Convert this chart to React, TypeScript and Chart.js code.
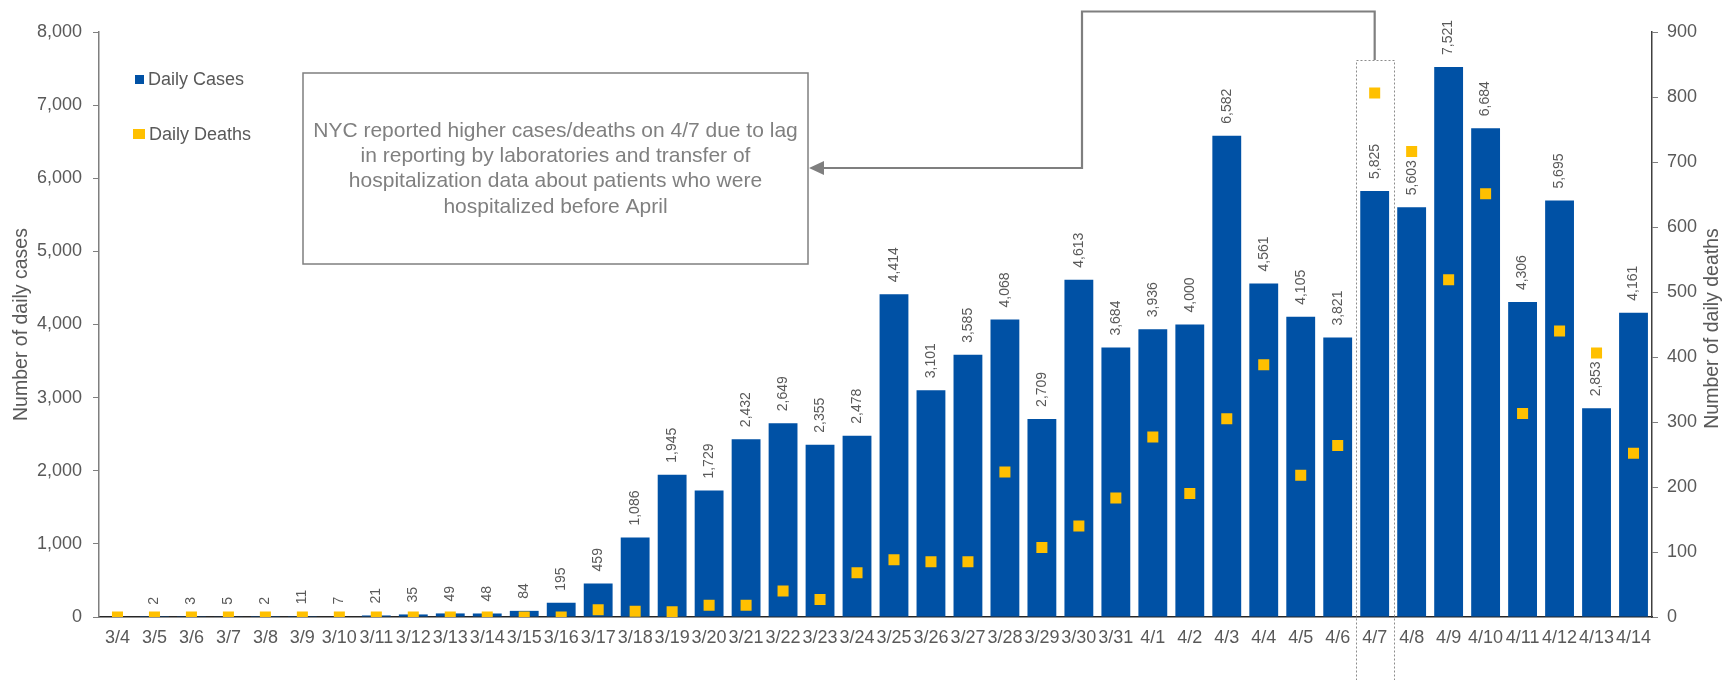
import React, { useEffect, useRef } from "react";
import { Chart, registerables } from "chart.js";

Chart.register(...registerables);

const dates = [
  "3/4", "3/5", "3/6", "3/7", "3/8", "3/9", "3/10", "3/11", "3/12", "3/13", "3/14", "3/15", "3/16", "3/17",
  "3/18", "3/19", "3/20", "3/21", "3/22", "3/23", "3/24", "3/25", "3/26", "3/27", "3/28", "3/29", "3/30", "3/31",
  "4/1", "4/2", "4/3", "4/4", "4/5", "4/6", "4/7", "4/8", "4/9", "4/10", "4/11", "4/12", "4/13", "4/14",
];

const dailyCases = [
  0, 2, 3, 5, 2, 11, 7, 21, 35, 49, 48, 84, 195, 459,
  1086, 1945, 1729, 2432, 2649, 2355, 2478, 4414, 3101, 3585, 4068, 2709, 4613, 3684,
  3936, 4000, 6582, 4561, 4105, 3821, 5825, 5603, 7521, 6684, 4306, 5695, 2853, 4161,
];

const dailyDeaths = [
  0, 0, 0, 0, 0, 0, 0, 0, 0, 0, 0, 0, 0, 11,
  9, 8, 18, 18, 40, 27, 68, 88, 85, 85, 223, 107, 140, 183,
  277, 190, 305, 388, 218, 264, 806, 716, 519, 651, 313, 440, 406, 252,
];

const noteLines = [
  "NYC reported higher cases/deaths on 4/7 due to lag",
  "in reporting by laboratories and transfer of",
  "hospitalization data about patients who were",
  "hospitalized before April",
];

const noteIndex = 34; // 4/7

const FONT = "'Liberation Sans', Arial, sans-serif";
const BLUE = "#0051A5";
const GOLD = "#FFC000";
const GRAY = "#595959";

const decorPlugin = {
  id: "decor",
  afterDraw(chart: any) {
    const ctx = chart.ctx;
    const xs = chart.scales.x;
    const ys = chart.scales.y;
    const area = chart.chartArea;
    ctx.save();

    // bar value labels
    ctx.fillStyle = GRAY;
    ctx.font = `14px ${FONT}`;
    ctx.textAlign = "left";
    ctx.textBaseline = "middle";
    dailyCases.forEach((v, i) => {
      if (!v) return;
      const x = xs.getPixelForValue(i);
      const y = ys.getPixelForValue(v) - 12;
      ctx.save();
      ctx.translate(x, y);
      ctx.rotate(-Math.PI / 2);
      ctx.fillText(v.toLocaleString("en-US"), 0, 0);
      ctx.restore();
    });

    // legend
    ctx.fillStyle = BLUE;
    ctx.fillRect(135, 75, 9, 9);
    ctx.fillStyle = GOLD;
    ctx.fillRect(133, 129, 12, 10);
    ctx.fillStyle = GRAY;
    ctx.font = `18px ${FONT}`;
    ctx.textAlign = "left";
    ctx.textBaseline = "middle";
    ctx.fillText("Daily Cases", 148, 80);
    ctx.fillText("Daily Deaths", 149, 135);

    // axis titles
    const midY = (area.top + area.bottom) / 2;
    ctx.font = `19.5px ${FONT}`;
    ctx.textAlign = "center";
    ctx.save();
    ctx.translate(22, midY);
    ctx.rotate(-Math.PI / 2);
    ctx.fillText("Number of daily cases", 0, 0);
    ctx.restore();
    ctx.save();
    ctx.translate(1713, midY + 4);
    ctx.rotate(-Math.PI / 2);
    ctx.fillText("Number of daily deaths", 0, 0);
    ctx.restore();

    // dotted highlight box around 4/7
    const cx = xs.getPixelForValue(noteIndex);
    const half = 19;
    ctx.strokeStyle = "#8c8c8c";
    ctx.lineWidth = 1;
    ctx.setLineDash([2, 2]);
    ctx.strokeRect(Math.round(cx - half) + 0.5, 60.5, half * 2, 700);
    ctx.setLineDash([]);

    // connector
    ctx.strokeStyle = "#7f7f7f";
    ctx.lineWidth = 2.2;
    ctx.beginPath();
    ctx.moveTo(cx, 60);
    ctx.lineTo(cx, 11.5);
    ctx.lineTo(1082, 11.5);
    ctx.lineTo(1082, 168);
    ctx.lineTo(822, 168);
    ctx.stroke();
    ctx.fillStyle = "#7f7f7f";
    ctx.beginPath();
    ctx.moveTo(809, 168);
    ctx.lineTo(824, 161);
    ctx.lineTo(824, 175);
    ctx.closePath();
    ctx.fill();

    // annotation box
    ctx.fillStyle = "#ffffff";
    ctx.fillRect(303, 73, 505, 191);
    ctx.strokeStyle = "#7f7f7f";
    ctx.lineWidth = 1.5;
    ctx.strokeRect(303, 73, 505, 191);
    ctx.fillStyle = "#808080";
    ctx.font = `21px ${FONT}`;
    ctx.textAlign = "center";
    ctx.textBaseline = "middle";
    noteLines.forEach((t, i) => {
      ctx.fillText(t, 555.5, 131 + i * 25.3, 498);
    });

    ctx.restore();
  },
};

export default function App() {
  const ref = useRef<HTMLCanvasElement | null>(null);

  useEffect(() => {
    document.body.style.margin = "0";
    const canvas = ref.current!;
    const chart = new Chart(canvas, {
      type: "bar",
      data: {
        labels: dates,
        datasets: [
          {
            type: "line",
            label: "Daily Deaths",
            data: dailyDeaths,
            yAxisID: "y1",
            showLine: false,
            pointStyle: "rect",
            pointRadius: 7.8,
            pointBorderWidth: 0,
            pointBackgroundColor: GOLD,
            pointBorderColor: GOLD,
            order: 0,
          } as any,
          {
            type: "bar",
            label: "Daily Cases",
            data: dailyCases,
            yAxisID: "y",
            backgroundColor: BLUE,
            barPercentage: 0.78,
            categoryPercentage: 1,
            order: 1,
          },
        ],
      },
      plugins: [decorPlugin],
      options: {
        responsive: false,
        animation: false,
        devicePixelRatio: 1,
        layout: { padding: { top: 32, left: 0, right: 0, bottom: 0 } },
        plugins: {
          legend: { display: false },
          tooltip: { enabled: false },
        },
        scales: {
          x: {
            grid: { display: false, drawTicks: false },
            border: { display: true, color: "#262626", width: 1.5 },
            ticks: {
              autoSkip: false,
              maxRotation: 0,
              minRotation: 0,
              padding: 10,
              color: GRAY,
              font: { family: FONT, size: 18 },
            },
            afterFit: (s: any) => {
              s.height = 63;
            },
          },
          y: {
            position: "left",
            min: 0,
            max: 8000,
            grid: { drawOnChartArea: false, drawTicks: true, tickLength: 6, color: "#7f7f7f" },
            border: { display: true, color: "#7f7f7f", width: 1.5 },
            ticks: {
              stepSize: 1000,
              padding: 11,
              color: GRAY,
              font: { family: FONT, size: 18 },
              callback: (v: any) => Number(v).toLocaleString("en-US"),
            },
            afterFit: (s: any) => {
              s.width = 99;
            },
          },
          y1: {
            position: "right",
            min: 0,
            max: 900,
            grid: { drawOnChartArea: false, drawTicks: true, tickLength: 6, color: "#7f7f7f" },
            border: { display: true, color: "#404040", width: 1.5 },
            ticks: {
              stepSize: 100,
              padding: 9,
              color: GRAY,
              font: { family: FONT, size: 18 },
            },
            afterFit: (s: any) => {
              s.width = 73;
            },
          },
        },
      },
    });
    return () => chart.destroy();
  }, []);

  return (
    <div style={{ width: 1725, height: 680, background: "#fff" }}>
      <canvas ref={ref} width={1725} height={680} style={{ display: "block", width: 1725, height: 680 }} />
    </div>
  );
}
